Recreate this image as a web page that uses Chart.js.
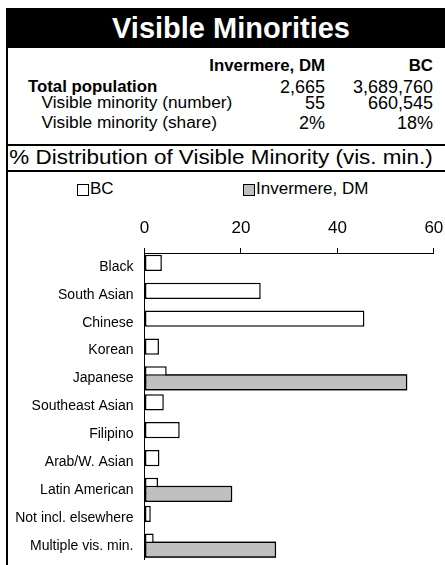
<!DOCTYPE html>
<html>
<head>
<meta charset="utf-8">
<script src="https://cdn.jsdelivr.net/npm/chart.js@4"></script>
<style>
  body { margin: 0; width: 445px; height: 565px; overflow: hidden; background: #fff;
         font-family: "Liberation Sans", Arial, sans-serif; color: #000; }
  .abs { position: absolute; white-space: nowrap; line-height: 1; }
  .header { position: absolute; left: 6px; top: 8px; width: 439px; height: 40px; background: #000;
            color: #fff; font-weight: bold; font-size: 29px; line-height: 40px; text-align: center;
            padding-left: 11px; box-sizing: border-box; }
  .vline { position: absolute; left: 6px; top: 48px; width: 2px; height: 517px; background: #000; }
  .hline { position: absolute; left: 6px; width: 439px; height: 2px; background: #000; }
  .b17 { font-weight: bold; font-size: 16.8px; }
  .r17 { font-size: 17.3px; }
  .num { font-size: 18px; }
  .right { text-align: right; }
  .lbox { position: absolute; width: 10px; height: 10px; border: 1px solid #000; }
  #chartWrap { position: absolute; left: 8px; top: 172px; width: 444.3px; height: 407px; }
</style>
</head>
<body>
  <div class="header">Visible Minorities</div>
  <div class="vline"></div>

  <!-- summary table -->
  <div class="abs b17 right" style="right:120px; top:58.3px;">Invermere, DM</div>
  <div class="abs b17 right" style="right:12px; top:58.3px;">BC</div>

  <div class="abs b17" style="left:28px; top:79.3px;">Total population</div>
  <div class="abs num right" style="right:120px; top:78.1px;">2,665</div>
  <div class="abs num right" style="right:12px; top:78.1px;">3,689,760</div>

  <div class="abs r17" style="left:41.5px; top:94.3px;">Visible minority (number)</div>
  <div class="abs num right" style="right:120px; top:93.6px;">55</div>
  <div class="abs num right" style="right:12px; top:93.6px;">660,545</div>

  <div class="abs r17" style="left:41.5px; top:114.4px;">Visible minority (share)</div>
  <div class="abs num right" style="right:120px; top:113.7px;">2%</div>
  <div class="abs num right" style="right:12px; top:113.7px;">18%</div>

  <div class="hline" style="top:143.5px;"></div>
  <div class="abs" style="left:8px; width:426px; text-align:center; font-size:19.5px; top:147.5px; transform:scaleX(1.15);">% Distribution of Visible Minority (vis. min.)</div>
  <div class="hline" style="top:169.5px;"></div>

  <!-- legend -->
  <div class="lbox" style="left:77px; top:184px; background:#fff;"></div>
  <div class="abs" style="left:90px; top:180px; font-size:17px;">BC</div>
  <div class="lbox" style="left:243px; top:184px; background:#c0c0c0;"></div>
  <div class="abs" style="left:256px; top:180px; font-size:17px;">Invermere, DM</div>

  <div id="chartWrap"><canvas id="chartVisMin"></canvas></div>

<script>
  // =========================
  // DATA
  // =========================
  const categories = ['Black', 'South Asian', 'Chinese', 'Korean', 'Japanese', 'Southeast Asian',
                      'Filipino', 'Arab/W. Asian', 'Latin American', 'Not incl. elsewhere', 'Multiple vis. min.'];
  const bcShare = [3.6, 24.1, 45.6, 3.0, 4.6, 4.0, 7.3, 3.1, 2.8, 1.3, 1.9];
  const invermereShare = [0, 0, 0, 0, 54.5, 0, 0, 0, 18.2, 0, 27.3];
  const xTicks = [0, 20, 40, 60];

  Chart.defaults.font.family = '"Liberation Sans", Arial, sans-serif';
  Chart.defaults.color = '#000';

  // Invermere bars overlap the lower half of the BC bars, so draw them again on top
  const invermereOnTop = {
    id: 'invermereOnTop',
    afterDatasetsDraw(chart) {
      const meta = chart.getDatasetMeta(1);
      if (meta.visible) meta.controller.draw();
    }
  };

  // =========================
  // GRAFIK (HORIZONTAL BAR)
  // =========================
  const ctx = document.getElementById('chartVisMin').getContext('2d');

  new Chart(ctx, {
    type: 'bar',
    data: {
      labels: categories,
      datasets: [{
        label: 'BC',
        data: bcShare,
        backgroundColor: '#ffffff',
        borderColor: '#000000',
        borderWidth: 1.5,
        borderSkipped: false
      }, {
        label: 'Invermere, DM',
        data: invermereShare,
        backgroundColor: '#c0c0c0',
        borderColor: '#000000',
        borderWidth: 1.5,
        borderSkipped: false
      }]
    },
    options: {
      indexAxis: 'y',
      responsive: true,
      maintainAspectRatio: false,
      animation: false,
      categoryPercentage: 0.57,
      barPercentage: 2.05,
      layout: { padding: { top: 41, right: 4.4, bottom: 0, left: 0 } },
      plugins: {
        legend: { display: false },
        tooltip: { enabled: false }
      },
      scales: {
        x: {
          position: 'top',
          min: 0,
          max: 60,
          afterBuildTicks: (scale) => { scale.ticks = xTicks.map(v => ({ value: v })); },
          afterFit: (scale) => { scale.height = 40; },
          grid: {
            drawOnChartArea: false,
            drawTicks: true,
            tickLength: 5,
            color: '#000'
          },
          border: { display: true, color: '#000', width: 1 },
          ticks: {
            font: { size: 17 },
            color: '#000',
            padding: 9,
            maxRotation: 0
          }
        },
        y: {
          afterFit: (scale) => { scale.width = 136.5; },
          grid: { display: false, drawTicks: false },
          border: { display: true, color: '#000', width: 1 },
          ticks: {
            font: { size: 14 },
            color: '#000',
            padding: 11,
            autoSkip: false
          }
        }
      }
    },
    plugins: [invermereOnTop]
  });
</script>
</body>
</html>
